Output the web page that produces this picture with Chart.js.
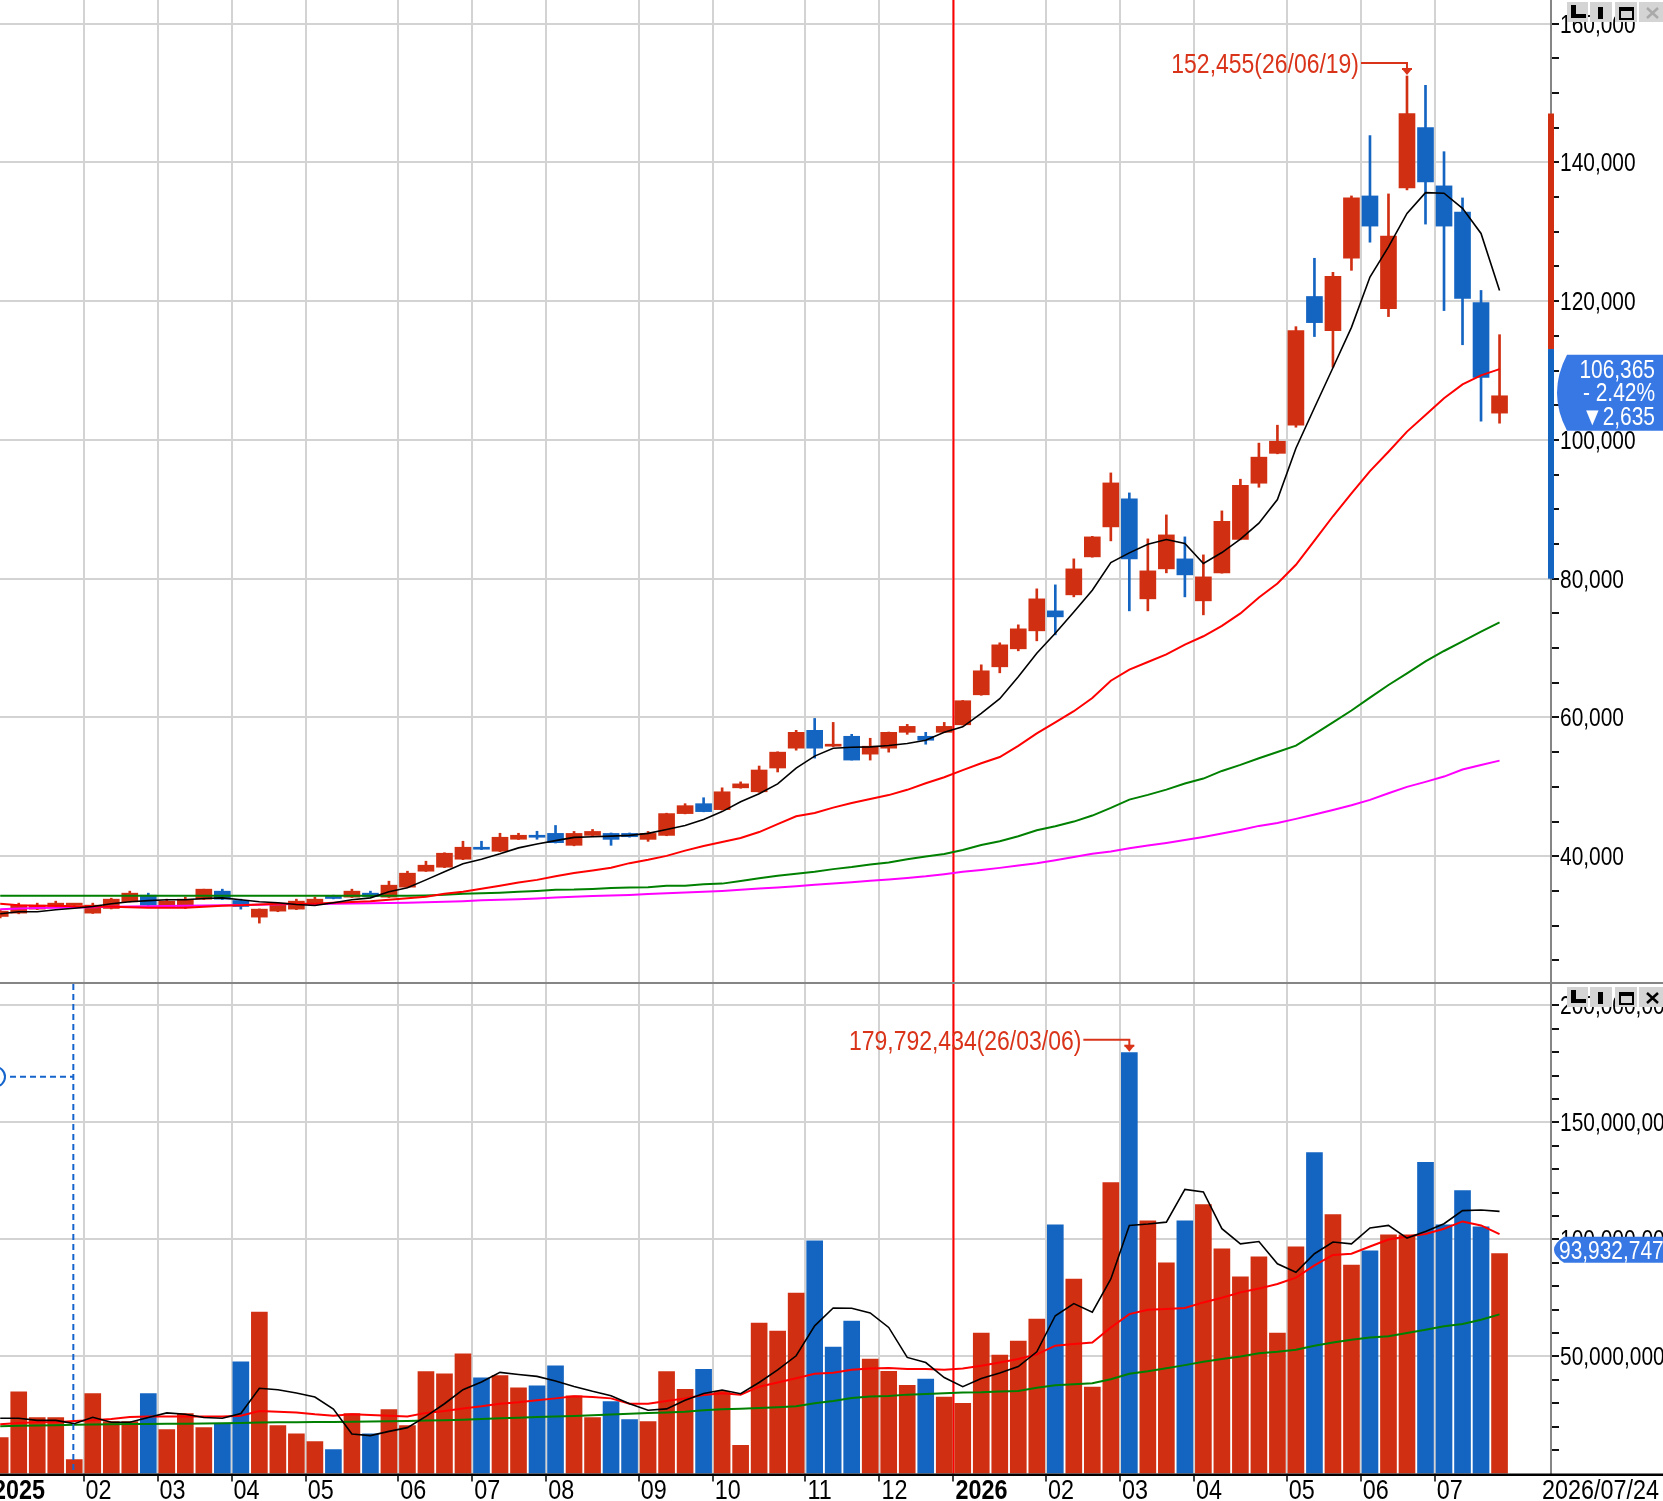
<!DOCTYPE html>
<html><head><meta charset="utf-8">
<script src="https://cdn.jsdelivr.net/npm/chart.js@4.4.1/dist/chart.umd.min.js"></script>
<style>
html,body{margin:0;padding:0;background:#fff;}
#wrap{position:relative;width:1663px;height:1501px;overflow:hidden;background:#fff;}
#pc{position:absolute;left:0;top:0;}
#vc{position:absolute;left:0;top:982px;}
</style></head><body>
<div id="wrap"><canvas id="pc" width="1663" height="982"></canvas><canvas id="vc" width="1663" height="519"></canvas></div>
<script>
// ---------------- DATA ----------------
const weeks = [
'2025/01/03','2025/01/10','2025/01/17','2025/01/24','2025/01/31',
'2025/02/07','2025/02/14','2025/02/21','2025/02/28',
'2025/03/07','2025/03/14','2025/03/21','2025/03/28',
'2025/04/04','2025/04/11','2025/04/18','2025/04/25',
'2025/05/02','2025/05/09','2025/05/16','2025/05/23','2025/05/30',
'2025/06/05','2025/06/13','2025/06/20','2025/06/27',
'2025/07/04','2025/07/11','2025/07/18','2025/07/25',
'2025/08/01','2025/08/08','2025/08/14','2025/08/22','2025/08/29',
'2025/09/05','2025/09/12','2025/09/19','2025/09/26',
'2025/10/02','2025/10/10','2025/10/17','2025/10/24','2025/10/31',
'2025/11/07','2025/11/14','2025/11/21','2025/11/28',
'2025/12/05','2025/12/12','2025/12/19','2025/12/26',
'2026/01/02','2026/01/09','2026/01/16','2026/01/23','2026/01/30',
'2026/02/06','2026/02/13','2026/02/20','2026/02/27',
'2026/03/06','2026/03/13','2026/03/20','2026/03/27',
'2026/04/03','2026/04/10','2026/04/17','2026/04/24','2026/04/30',
'2026/05/08','2026/05/15','2026/05/22','2026/05/29',
'2026/06/05','2026/06/12','2026/06/19','2026/06/26',
'2026/07/03','2026/07/10','2026/07/17','2026/07/24'];

const monthStartIdx = [0,5,9,13,17,22,26,30,35,39,44,48,52,57,61,65,70,74,78];
const monthLabels = ['2025','02','03','04','05','06','07','08','09','10','11','12','2026','02','03','04','05','06','07'];

const openP = [31317,31797,32372,32756,32950,31797,32468,33428,34387,32660,
 32756,33811,34963,33619,31221,32084,32372,33236,34291,34099,
 34675,34099,35538,37841,38416,39568,41294,40719,42446,43022,
 43290,41571,43000,43286,43286,42428,43000,46143,47571,46714,
 49857,49286,52714,55571,58143,55857,57286,54714,55571,57857,
 57286,57857,58942,63265,67299,69892,72485,75364,77671,83145,
 87467,91501,77095,81416,82857,76807,80840,85670,93760,98067,
 102125,120676,115748,126183,135169,118937,136328,145024,136618,132850,
 119807,103865];
const highP = [32300,33236,33236,33524,33050,33236,33950,34963,34675,33811,
 34099,35250,35250,33811,32400,33100,33811,34099,34387,35250,
 34963,36402,37841,39280,40500,42158,42158,43309,43309,43597,
 44430,43571,43857,43350,43350,43571,46200,47571,48428,49857,
 50714,53000,55050,58143,59857,59286,57571,57000,57900,59000,
 57857,59286,62450,67587,70756,73349,78536,79112,82857,86100,
 95246,92365,85738,89196,86026,83433,89772,94340,99540,102125,
 116328,126183,124155,135169,143865,135459,152455,151111,141546,134879,
 121546,115169];
const lowP = [31100,31700,32300,32700,32900,31750,32400,33400,32900,32600,
 32468,33750,33750,32372,30358,32000,32300,33200,33850,34050,
 34150,34050,35500,37800,38350,39500,40950,40650,42400,42446,
 41900,41500,42950,41571,42750,42143,42950,46100,46400,46650,
 49800,49200,52143,55286,54143,55800,53857,53857,55000,57571,
 56143,57800,58900,63200,66434,69604,71044,71908,77383,83100,
 85450,75364,75364,80840,77383,74788,80800,85600,93180,98000,
 101835,114900,110480,124445,128502,117777,136039,131111,118647,113719,
 102705,102415];
const closeP = [32084,32948,32948,33236,33000,32948,33811,34675,32948,33524,
 33811,35250,33811,32756,32372,33044,33524,33811,33907,34963,
 34195,35826,37553,38704,40431,41294,41006,42734,43022,42734,
 41950,43286,43571,42428,42810,43286,46143,47286,46428,49286,
 50428,52428,55000,57857,55571,56143,53857,55857,57857,58714,
 56714,58714,62410,66723,70468,72773,77095,74500,81416,86026,
 93806,82857,81128,86314,80552,80264,88280,93470,97520,99806,
 115748,116908,123575,134879,130821,129372,147053,137198,130821,120386,
 109000,106365];

const ma5 = [31700,31990,31990,32280,32500,32750,33140,33430,33600,33715,
 33715,33900,34000,33715,33430,33300,33050,32900,33300,33715,
 34000,34870,35440,36590,37750,38900,39570,40340,41200,41770,
 42250,42710,42810,42900,43000,43290,43860,44430,45290,46430,
 47860,49000,50430,52710,54430,55570,55710,55760,55950,56240,
 56710,57860,58650,60600,62700,65850,69250,72130,75200,78340,
 82330,83720,84970,85640,85070,82190,83770,85700,88000,91400,
 98800,104640,110400,116230,123480,127830,132660,135650,135560,133380,
 129760,121550];
const ma20 = [33140,32950,32850,32850,32800,32750,32700,32650,32560,32560,
 32560,32700,32850,32950,33050,33140,33140,33140,33300,33400,
 33500,33715,33950,34150,34580,34870,35300,35730,36200,36590,
 37100,37570,37950,38330,39000,39480,40050,40810,41480,42050,
 42620,43480,44620,45760,46240,47000,47670,48240,48810,49570,
 50520,51380,52400,53400,54300,55900,57700,59300,60900,62800,
 65300,66900,68000,69100,70500,71700,73200,75000,77300,79300,
 82000,85500,89000,92300,95500,98300,101200,103600,106000,108000,
 109300,110200];
const ma60 = [34290,34290,34290,34290,34290,34290,34290,34290,34290,34290,
 34290,34290,34290,34290,34290,34290,34290,34290,34290,34290,
 34290,34290,34300,34350,34450,34580,34650,34750,34870,35000,
 35170,35190,35290,35430,35480,35520,35760,35760,35950,36050,
 36430,36810,37190,37480,37760,38140,38430,38810,39100,39570,
 39950,40330,40900,41620,42160,42880,43750,44320,44990,45860,
 46960,48160,48840,49600,50470,51190,52290,53160,54120,55030,
 55940,57600,59300,61000,62860,64680,66360,68090,69580,70970,
 72370,73710];
const ma120 = [32370,32480,32540,32580,32620,32660,32700,32760,32800,32830,
 32860,32890,32920,32960,33000,33060,33100,33130,33160,33190,
 33220,33260,33300,33380,33450,33520,33640,33720,33800,33920,
 34050,34150,34250,34330,34420,34540,34650,34760,34880,35000,
 35150,35330,35480,35680,35870,36050,36250,36470,36650,36860,
 37100,37400,37750,38030,38320,38650,38990,39420,39900,40340,
 40670,41150,41540,41920,42350,42780,43260,43790,44370,44800,
 45380,46000,46670,47350,48120,49080,49990,50710,51480,52490,
 53160,53780];

const volume = [15300000,34900000,23900000,23900000,6000000,34100000,22200000,22200000,34100000,18800000,
 25600000,19600000,21300000,47700000,69000000,20500000,17000000,13600000,10200000,25600000,
 17000000,27300000,20500000,43500000,42600000,51100000,40900000,41800000,36600000,37500000,
 46000000,33200000,23900000,30700000,23000000,22200000,43500000,36000000,44500000,35100000,
 12000000,64300000,60900000,77100000,99400000,54000000,65100000,48900000,43700000,37700000,
 40300000,32600000,30000000,60000000,50600000,56600000,66000000,106300000,83100000,36900000,
 124300000,179792434,108000000,90000000,108000000,114900000,96000000,84000000,92600000,60000000,
 96900000,137100000,110600000,89100000,95100000,102000000,102000000,132900000,106300000,120900000,
 105400000,93932747];
// volume moving averages, in millions of shares
const vma5 = [23.6,23.6,22.7,22.7,21.3,24.0,21.9,21.9,23.9,25.9,
 25.3,23.9,23.6,25.6,36.4,35.8,34.4,32.7,27.5,16.9,
 16.2,18.0,19.6,24.4,29.8,35.8,39.1,43.2,42.3,41.5,
 39.5,37.2,35.1,33.2,29.8,27.0,27.6,31.3,34.2,35.7,
 34.1,38.9,44.3,50.3,63.1,70.7,70.6,68.6,62.4,49.6,
 47.4,41.0,37.1,40.6,42.9,45.7,52.0,67.4,72.6,68.9,
 83.1,106.0,106.6,107.4,121.4,120.3,104.6,98.1,99.1,89.6,
 86.0,93.9,98.9,98.1,104.9,106.0,100.6,103.4,106.7,112.3,
 112.6,112.0];
const vma20 = [21.0,21.6,21.9,21.9,22.4,22.7,23.3,24.1,24.4,24.4,
 24.4,24.4,24.4,24.7,26.7,26.4,26.1,25.3,24.7,25.3,
 25.0,24.7,24.4,25.9,26.7,27.8,28.7,29.8,30.4,31.3,
 32.1,33.0,32.7,32.1,29.8,29.8,31.0,32.1,33.5,34.3,
 33.7,37.1,38.9,40.7,42.6,43.0,44.3,44.9,45.1,44.6,
 44.6,44.3,44.9,46.0,47.4,48.9,50.9,54.6,55.3,56.0,
 62.4,68.1,70.0,70.3,70.7,73.1,75.1,77.4,79.0,81.0,
 83.7,88.9,93.4,93.9,97.0,100.0,101.3,102.3,104.6,107.7,
 106.0,102.3];
const vma60 = [20.2,20.4,20.5,20.6,20.8,20.9,21.0,21.1,21.2,21.3,
 21.3,21.4,21.5,21.6,21.8,21.9,21.9,22.0,22.0,22.1,
 22.2,22.3,22.4,22.6,22.8,23.0,23.3,23.6,23.8,24.1,
 24.4,24.6,24.9,25.2,25.5,25.8,26.1,26.4,27.0,27.4,
 27.7,28.0,28.3,28.7,30.0,31.0,32.3,32.9,33.1,33.7,
 34.0,34.3,34.6,34.7,35.0,35.3,36.6,37.7,38.1,38.6,
 40.3,42.6,43.7,45.0,46.3,47.7,48.9,50.0,51.4,52.0,
 52.9,54.6,56.0,57.1,58.1,58.6,60.0,61.4,62.9,63.9,
 65.7,68.0];
const volDownWeeks = [45]; // weeks whose volume bar is blue although the candle is red

const priceTicks = [40000,60000,80000,100000,120000,140000,160000];
const volTicks = [50000000,100000000,150000000,200000000];
const axisRangeBar = [147050, 113100, 80000]; // red from first to second, blue from second to third
const crossHair = {week: 3.95, vol: 169500000};

// ---------------- STYLE / LAYOUT ----------------
const RED = '#d12f12', BLUE = '#1464c2', GRID = '#d3d3d3', ANNO = '#d9341a', LBOX = '#3878e4';
const BASEFONT = "'Liberation Sans', Arial, sans-serif";
const NARROW = 0.82; // Arial Narrow is Arial compressed horizontally
const X_MIN = -0.012, X_MAX = 83.78;
const P_MIN = 21870, P_MAX = 163410, V_MIN = 0, V_MAX = 210000000;
const VOL_UNIT = 1e6;
const idx = weeks.map((_, i) => i);
const candleColor = i => closeP[i] >= openP[i] ? RED : BLUE;
const volColor = i => (volDownWeeks.includes(i) ? BLUE : candleColor(i));
const fmt = v => Math.round(v).toLocaleString('en-US');

function ntext(ctx, text, x, y, size, align, color, weight) {
  ctx.save();
  ctx.font = (weight || 'normal') + ' ' + size + 'px ' + BASEFONT;
  ctx.fillStyle = color; ctx.textBaseline = 'alphabetic'; ctx.textAlign = align;
  ctx.translate(x, y); ctx.scale(NARROW, 1);
  ctx.fillText(text, 0, 0);
  ctx.restore();
}

function xScale(showTicks) {
  return {
    type: 'linear', min: X_MIN, max: X_MAX, offset: false,
    afterBuildTicks: s => { s.ticks = monthStartIdx.map(i => ({value: i - 0.5})); },
    afterFit: s => { s.height = showTicks ? 27.5 : 0; s.paddingLeft = 0; s.paddingRight = 0; },
    grid: {offset: false, color: GRID, lineWidth: 2, drawTicks: showTicks, tickLength: 8, tickColor: '#000', tickWidth: 1.5},
    border: {display: false},
    ticks: {display: false, autoSkip: false, callback: (v, i) => monthLabels[i]}
  };
}
function yScale(min, max, step, majors) {
  return {
    position: 'right', min, max,
    afterBuildTicks: s => { const t = []; for (let v = step; v <= max; v += step) if (v >= min) t.push({value: v}); s.ticks = t; },
    afterFit: s => { s.width = 112; s.paddingTop = 0; s.paddingBottom = 0; },
    grid: {color: c => majors.includes(c.tick.value) ? GRID : 'rgba(0,0,0,0)', lineWidth: 2, tickLength: 8, tickColor: '#111', tickWidth: 2},
    border: {display: true, color: '#858585', width: 2},
    ticks: {display: false, autoSkip: false, callback: v => majors.includes(v) ? fmt(v) : ''}
  };
}
function drawYLabels(chart, majors) {
  const ctx = chart.ctx, ys = chart.scales.y, ca = chart.chartArea;
  majors.forEach(v => ntext(ctx, fmt(v), ca.right + 9, ys.getPixelForValue(v) + 9, 25.5, 'left', '#000'));
}
function lineDs(arr, color, width, order, unit) {
  return {type: 'line', data: idx.map(i => ({x: i, y: arr[i] * (unit || 1)})), borderColor: color, borderWidth: width,
    pointRadius: 0, tension: 0, fill: false, order};
}
function drawButtons(ctx, y0, xActive) {
  ctx.save();
  ctx.fillStyle = '#d4d4d4';
  [[1567,21],[1590,22],[1615,22],[1639,24]].forEach(([x, w]) => ctx.fillRect(x, y0, w, 20));
  ctx.fillStyle = '#000';
  ctx.fillRect(1571, y0 + 3, 5, 13); ctx.fillRect(1571, y0 + 12, 15, 4);
  ctx.fillRect(1598, y0 + 5, 5, 12);
  ctx.strokeStyle = '#000'; ctx.lineWidth = 2; ctx.strokeRect(1620, y0 + 6, 13, 11); ctx.fillRect(1619, y0 + 5, 15, 4);
  ctx.strokeStyle = xActive ? '#000' : '#a9a9a9'; ctx.lineWidth = 2.5;
  ctx.beginPath(); ctx.moveTo(1647, y0 + 6); ctx.lineTo(1658, y0 + 16); ctx.moveTo(1658, y0 + 6); ctx.lineTo(1647, y0 + 16); ctx.stroke();
  ctx.restore();
}
function yearLine(chart) {
  const ctx = chart.ctx, xs = chart.scales.x, ca = chart.chartArea;
  const x = xs.getPixelForValue(monthStartIdx[monthLabels.indexOf('2026')] - 0.5);
  ctx.save(); ctx.fillStyle = '#ff0000'; ctx.fillRect(x - 1, 0, 2, ca.bottom); ctx.restore();
}
function peakNote(ctx, px, py, text) {
  const ly = py - 13;
  ctx.save();
  ctx.strokeStyle = ANNO; ctx.fillStyle = ANNO; ctx.lineWidth = 2;
  ctx.beginPath(); ctx.moveTo(px - 46, ly); ctx.lineTo(px, ly); ctx.lineTo(px, py - 5); ctx.stroke();
  ctx.fillRect(px - 5, py - 8, 10, 2);
  ctx.beginPath(); ctx.moveTo(px - 5, py - 7); ctx.lineTo(px + 5, py - 7); ctx.lineTo(px, py - 1); ctx.closePath(); ctx.fill();
  ctx.restore();
  ntext(ctx, text, px - 48, ly + 10, 28, 'right', ANNO);
}
function tagShape(ctx, cy, half, left) {
  ctx.beginPath();
  ctx.moveTo(left + 11, cy - half); ctx.lineTo(1663, cy - half); ctx.lineTo(1663, cy + half); ctx.lineTo(left + 11, cy + half);
  ctx.quadraticCurveTo(left - 9, cy, left + 11, cy - half); ctx.closePath(); ctx.fill();
}

// ---------------- PRICE CHART ----------------
const pricePlugin = {
  id: 'priceDecor',
  beforeDatasetsDraw: chart => yearLine(chart),
  afterDraw(chart) {
    const ctx = chart.ctx, xs = chart.scales.x, ys = chart.scales.y, ca = chart.chartArea;
    drawYLabels(chart, priceTicks);
    // range bar on the axis
    const y0 = ys.getPixelForValue(axisRangeBar[0]), y1 = ys.getPixelForValue(axisRangeBar[1]), y2 = ys.getPixelForValue(axisRangeBar[2]);
    ctx.fillStyle = RED; ctx.fillRect(ca.right - 3, y0, 6, y1 - y0);
    ctx.fillStyle = BLUE; ctx.fillRect(ca.right - 3, y1, 6, y2 - y1);
    // highest price note
    const hi = Math.max(...highP), pi = highP.indexOf(hi);
    peakNote(ctx, xs.getPixelForValue(pi), ys.getPixelForValue(hi), fmt(hi) + '(' + weeks[pi].slice(2) + ')');
    // current price tag
    const n = closeP.length - 1, cp = closeP[n], diff = cp - closeP[n - 1], pct = diff / closeP[n - 1] * 100;
    const cy = ys.getPixelForValue(cp) - 3;
    ctx.fillStyle = LBOX; tagShape(ctx, cy, 38, 1556);
    ntext(ctx, fmt(cp), 1655, cy - 15, 25.5, 'right', '#fff');
    ntext(ctx, (diff < 0 ? '- ' : '+ ') + Math.abs(pct).toFixed(2) + '%', 1655, cy + 8, 25.5, 'right', '#fff');
    ntext(ctx, (diff < 0 ? '\u25BC' : '\u25B2') + fmt(Math.abs(diff)), 1655, cy + 32, 25.5, 'right', '#fff');
    drawButtons(ctx, 2, false);
  }
};
new Chart(document.getElementById('pc'), {
  type: 'bar',
  data: {datasets: [
    {type: 'bar', data: idx.map(i => ({x: i, y: [lowP[i], highP[i]]})), backgroundColor: c => candleColor(c.dataIndex),
      barThickness: 2, grouped: false, borderWidth: 0, order: 10},
    {type: 'bar', data: idx.map(i => ({x: i, y: [openP[i], closeP[i]]})), backgroundColor: c => candleColor(c.dataIndex),
      barThickness: 16, grouped: false, borderWidth: 0, minBarLength: 2, order: 9},
    lineDs(ma120, '#ff00ff', 2, 4),
    lineDs(ma60, '#008000', 2, 3),
    lineDs(ma20, '#ff0000', 2, 2),
    lineDs(ma5, '#000000', 1.6, 1)
  ]},
  options: {
    responsive: false, animation: false, devicePixelRatio: 1,
    layout: {padding: 0},
    plugins: {legend: {display: false}, tooltip: {enabled: false}},
    scales: {x: xScale(false), y: yScale(P_MIN, P_MAX, 5000, priceTicks)}
  },
  plugins: [pricePlugin]
});

// ---------------- VOLUME CHART ----------------
const volPlugin = {
  id: 'volDecor',
  beforeDatasetsDraw: chart => yearLine(chart),
  afterDraw(chart) {
    const ctx = chart.ctx, xs = chart.scales.x, ys = chart.scales.y, ca = chart.chartArea;
    drawYLabels(chart, volTicks);
    ctx.save();
    // crosshair remnant
    ctx.strokeStyle = '#1464cc'; ctx.lineWidth = 2; ctx.setLineDash([6, 4]);
    const cx = xs.getPixelForValue(crossHair.week), cyv = ys.getPixelForValue(crossHair.vol);
    ctx.beginPath(); ctx.moveTo(cx, 2); ctx.lineTo(cx, ca.bottom); ctx.stroke();
    ctx.beginPath(); ctx.moveTo(10, cyv); ctx.lineTo(cx, cyv); ctx.stroke();
    ctx.setLineDash([]);
    ctx.beginPath(); ctx.arc(-5, cyv, 10, -Math.PI / 2, Math.PI / 2); ctx.stroke();
    ctx.restore();
    // separator and bottom axis
    ctx.fillStyle = '#858585'; ctx.fillRect(0, 0, 1663, 2);
    ctx.fillStyle = '#000'; ctx.fillRect(0, ca.bottom, 1663, 2.5);
    // month labels
    monthStartIdx.forEach((wi, k) => {
      const isYear = /^\d{4}$/.test(monthLabels[k]);
      ntext(ctx, monthLabels[k], xs.getPixelForValue(wi - 0.5) + 2, ca.bottom + 25, 28.5, 'left', '#000', isYear ? 'bold' : 'normal');
    });
    // last date
    ntext(ctx, weeks[weeks.length - 1], 1542, ca.bottom + 25, 28.5, 'left', '#000');
    // peak volume note
    const vmax = Math.max(...volume), vi = volume.indexOf(vmax);
    peakNote(ctx, xs.getPixelForValue(vi), ys.getPixelForValue(vmax), fmt(vmax) + '(' + weeks[vi].slice(2) + ')');
    // current volume tag
    const lv = volume[volume.length - 1], cy = ys.getPixelForValue(lv) - 4;
    ctx.fillStyle = LBOX; tagShape(ctx, cy, 13, 1553);
    ntext(ctx, fmt(lv), 1559, cy + 9, 25.5, 'left', '#fff');
    drawButtons(ctx, 5, true);
  }
};
new Chart(document.getElementById('vc'), {
  type: 'bar',
  data: {datasets: [
    {type: 'bar', data: idx.map(i => ({x: i, y: volume[i]})), backgroundColor: c => volColor(c.dataIndex),
      barThickness: 16, grouped: false, borderWidth: 0, order: 10},
    lineDs(vma60, '#008000', 2, 3, VOL_UNIT),
    lineDs(vma20, '#ff0000', 2, 2, VOL_UNIT),
    lineDs(vma5, '#000000', 1.6, 1, VOL_UNIT)
  ]},
  options: {
    responsive: false, animation: false, devicePixelRatio: 1,
    layout: {padding: 0},
    plugins: {legend: {display: false}, tooltip: {enabled: false}},
    scales: {x: xScale(true), y: yScale(V_MIN, V_MAX, 10000000, volTicks)}
  },
  plugins: [volPlugin]
});
</script>
</body></html>
